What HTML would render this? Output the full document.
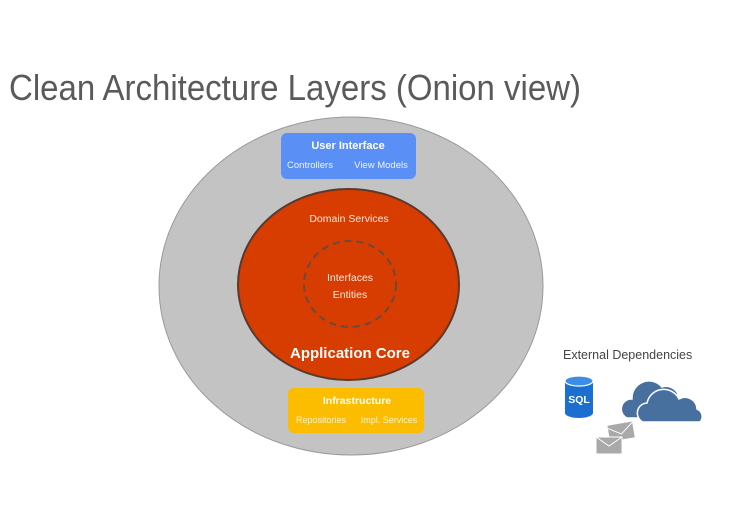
<!DOCTYPE html>
<html><head><meta charset="utf-8"><style>
html,body{margin:0;padding:0;background:#fff;}
svg{display:block;}
text{font-family:"Liberation Sans",sans-serif;}
</style></head><body>
<svg width="730" height="526" viewBox="0 0 730 526" xmlns="http://www.w3.org/2000/svg">
<rect width="730" height="526" fill="#fff"/>
<text x="9" y="100" font-size="36" fill="#5a5a5a" textLength="572" lengthAdjust="spacingAndGlyphs">Clean Architecture Layers (Onion view)</text>
<ellipse cx="351" cy="286" rx="192" ry="169" fill="#c3c3c3" stroke="#9a9a9a" stroke-width="1"/>
<rect x="281" y="133" width="135" height="46" rx="6" fill="#5a8ff5"/>
<text x="348" y="149" font-size="11" font-weight="bold" fill="#fff" text-anchor="middle">User Interface</text>
<text x="310" y="168" font-size="9.5" fill="#f0f4ff" text-anchor="middle">Controllers</text>
<text x="381" y="168" font-size="9.5" fill="#f0f4ff" text-anchor="middle">View Models</text>
<ellipse cx="348.5" cy="284.5" rx="110.5" ry="95.5" fill="#d73c00" stroke="#5a3a2e" stroke-width="2"/>
<text x="349" y="222" font-size="10.5" fill="#fde8df" text-anchor="middle">Domain Services</text>
<ellipse cx="350" cy="284" rx="46" ry="43" fill="none" stroke="#6a4a40" stroke-width="2" stroke-dasharray="7,5"/>
<text x="350" y="281" font-size="10.5" fill="#fde8df" text-anchor="middle">Interfaces</text>
<text x="350" y="298" font-size="10.5" fill="#fde8df" text-anchor="middle">Entities</text>
<text x="350" y="358" font-size="15" font-weight="bold" fill="#fff" text-anchor="middle">Application Core</text>
<rect x="288" y="388" width="136" height="45" rx="6" fill="#fcbc00"/>
<text x="357" y="404" font-size="10.5" font-weight="bold" fill="#fff" text-anchor="middle">Infrastructure</text>
<text x="321" y="423" font-size="9" fill="#fff4d0" text-anchor="middle">Repositories</text>
<text x="389" y="423" font-size="9" fill="#fff4d0" text-anchor="middle">Impl. Services</text>
<text x="563" y="359" font-size="12.5" fill="#444">External Dependencies</text>
<!-- SQL cylinder -->
<path d="M565 381 v32 a14 5 0 0 0 28 0 v-32 z" fill="#1a6fd1"/>
<ellipse cx="579" cy="381" rx="14" ry="5" fill="#3b8de6" stroke="#fff" stroke-width="1.2"/>
<text x="579" y="403" font-size="10.5" font-weight="bold" fill="#fff" text-anchor="middle">SQL</text>
<!-- clouds -->
<g fill="#47709f" stroke="#fff" stroke-width="1.5">
<path d="M627 418 a10 10 0 0 1 5 -19 a17 17 0 0 1 30 -12 a13 13 0 0 1 16 7 l-10 24 z"/>
<path d="M643 422 a10 10 0 0 1 4 -19 a17 17 0 0 1 32 -4 a12 12 0 0 1 18 10 a8 8 0 0 1 3 13 z"/>
</g>
<!-- envelopes -->
<g fill="#a9a9a9" stroke="#fff" stroke-width="1">
<rect x="608" y="423" width="26" height="17" transform="rotate(-10 621 431)"/>
<path d="M608 426 l13 8 l13 -10" fill="none" transform="rotate(-10 621 431)"/>
<rect x="596" y="437" width="26" height="17"/>
<path d="M596 437 l13 9 l13 -9" fill="none"/>
</g>
</svg>
</body></html>
